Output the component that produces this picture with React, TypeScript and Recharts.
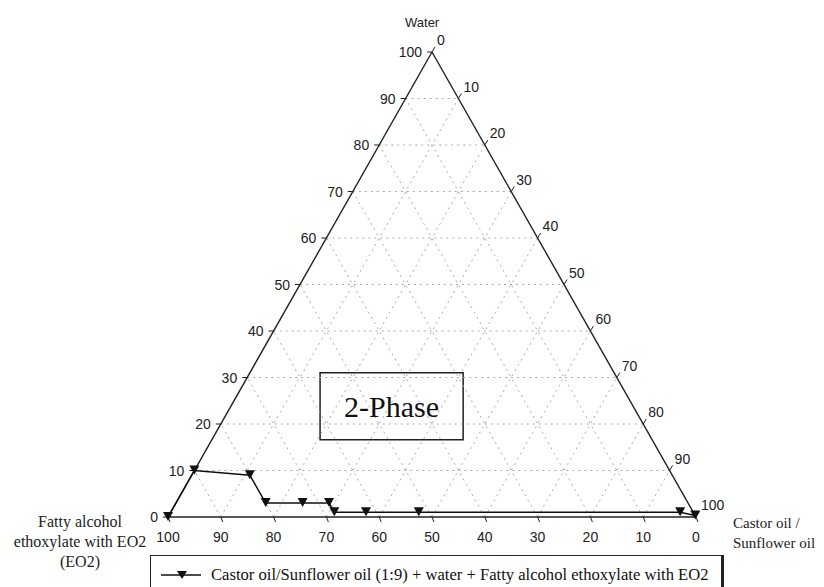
import React from 'react';
import {
  ComposedChart,
  Line,
  Scatter,
  XAxis,
  YAxis,
  ReferenceLine,
  ReferenceArea,
} from 'recharts';

const waterPct = [0, 10, 9, 3, 3, 3, 1, 1, 1, 1, 0.3];
const eo2Pct = [100, 90, 80, 80, 73, 68, 68, 62, 52, 2.5, 0];
const oilPct = [0, 0, 11, 17, 24, 29, 31, 37, 47, 96.5, 99.7];

const tickValues = [0, 10, 20, 30, 40, 50, 60, 70, 80, 90, 100];
const gridValues = [10, 20, 30, 40, 50, 60, 70, 80, 90];

const seriesName = 'Castor oil/Sunflower oil (1:9) + water + Fatty alcohol ethoxylate with EO2';
const phaseLabel = '2-Phase';

// ternary (water on top, oil bottom right, EO2 bottom left) -> plot coords
const toXY = (water: number, oil: number) => ({ x: oil + water / 2, y: water });

const curveData = waterPct.map((w, i) => ({ ...toXY(w, oilPct[i]), eo2: eo2Pct[i] }));
const leftTicks = tickValues.map((v) => ({ ...toXY(v, 0), label: v }));
const rightTicks = tickValues.map((v) => ({ ...toXY(100 - v, v), label: v }));
const bottomTicks = tickValues.map((v) => ({ ...toXY(0, 100 - v), label: v }));

const edges = [
  [toXY(0, 0), toXY(100, 0)],
  [toXY(100, 0), toXY(0, 100)],
  [toXY(0, 0), toXY(0, 100)],
];

const gridLines = gridValues.flatMap((k) => [
  [toXY(k, 0), toXY(k, 100 - k)], // constant water
  [toXY(0, 100 - k), toXY(100 - k, 0)], // constant EO2
  [toXY(0, k), toXY(100 - k, k)], // constant oil
]);

const tickFont = { fontFamily: 'Liberation Sans, Arial, sans-serif', fontSize: 14, fill: '#222' };
const serif = 'Liberation Serif, Times New Roman, serif';

const LeftTick = (p: any) => (
  <g>
    <line x1={p.cx} y1={p.cy} x2={p.cx - 5} y2={p.cy} stroke="#222" />
    <text x={p.cx - 10} y={p.cy + 5} textAnchor="end" {...tickFont}>
      {p.payload.label}
    </text>
  </g>
);

const RightTick = (p: any) => (
  <g>
    <line x1={p.cx} y1={p.cy} x2={p.cx + 3} y2={p.cy - 5} stroke="#222" />
    <text x={p.cx + 5} y={p.cy - 7} textAnchor="start" {...tickFont}>
      {p.payload.label}
    </text>
  </g>
);

const BottomTick = (p: any) => (
  <g>
    <line x1={p.cx} y1={p.cy} x2={p.cx + 2} y2={p.cy + 5} stroke="#222" />
    <text x={p.cx} y={p.cy + 25} textAnchor="middle" {...tickFont}>
      {p.payload.label}
    </text>
  </g>
);

const DownTriangle = (p: any) => (
  <polygon
    key={`m-${p.index}`}
    points={`${p.cx - 5},${p.cy - 5} ${p.cx + 5},${p.cy - 5} ${p.cx},${p.cy + 4}`}
    fill="#111"
  />
);

export default function App() {
  return (
    <div style={{ position: 'relative', width: 824, height: 587, background: '#fff' }}>
      <style>{'body{margin:0;overflow:hidden}'}</style>
      <ComposedChart
        width={824}
        height={587}
        margin={{ top: 52, right: 128, bottom: 70, left: 168 }}
      >
        <XAxis type="number" dataKey="x" domain={[0, 100]} hide />
        <YAxis type="number" dataKey="y" domain={[0, 100]} hide />
        {gridLines.map((seg, i) => (
          <ReferenceLine
            key={`g-${i}`}
            segment={seg}
            stroke="#aaa"
            strokeDasharray="2 4"
            ifOverflow="visible"
          />
        ))}
        <ReferenceArea
          x1={28.8}
          x2={55.9}
          y1={16.6}
          y2={31}
          fill="#fff"
          fillOpacity={1}
          stroke="#222"
          strokeWidth={1.5}
          ifOverflow="visible"
          label={{ value: phaseLabel, position: 'center', fontSize: 30, fontFamily: serif, fill: '#111' }}
        />
        {edges.map((seg, i) => (
          <ReferenceLine key={`e-${i}`} segment={seg} stroke="#222" strokeWidth={1.4} ifOverflow="visible" />
        ))}
        <Scatter data={leftTicks} shape={LeftTick} isAnimationActive={false} />
        <Scatter data={rightTicks} shape={RightTick} isAnimationActive={false} />
        <Scatter data={bottomTicks} shape={BottomTick} isAnimationActive={false} />
        <Line
          data={curveData}
          dataKey="y"
          type="linear"
          stroke="#111"
          strokeWidth={1.5}
          dot={DownTriangle}
          activeDot={false}
          isAnimationActive={false}
          name={seriesName}
        />
      </ComposedChart>

      <div
        style={{
          position: 'absolute',
          left: 405,
          top: 15,
          fontFamily: 'Liberation Sans, Arial, sans-serif',
          fontSize: 13,
          color: '#222',
        }}
      >
        Water
      </div>
      <div
        style={{
          position: 'absolute',
          left: 0,
          top: 512,
          width: 160,
          textAlign: 'center',
          fontFamily: serif,
          fontSize: 16,
          lineHeight: '20px',
          color: '#222',
        }}
      >
        Fatty alcohol
        <br />
        ethoxylate with EO2
        <br />
        (EO2)
      </div>
      <div
        style={{
          position: 'absolute',
          left: 733,
          top: 513,
          fontFamily: serif,
          fontSize: 15,
          lineHeight: '20px',
          color: '#222',
        }}
      >
        Castor oil /
        <br />
        Sunflower oil
      </div>
      <div
        style={{
          position: 'absolute',
          left: 150,
          top: 555,
          width: 574,
          height: 40,
          border: '1px solid #222',
          borderRightWidth: 3,
          boxSizing: 'border-box',
          display: 'flex',
          alignItems: 'flex-start',
          paddingTop: 9,
          background: '#fff',
        }}
      >
        <svg width={60} height={20} style={{ flex: 'none' }}>
          <line x1={10} y1={10} x2={50} y2={10} stroke="#111" strokeWidth={1.5} />
          <polygon points="26,6 36,6 31,14" fill="#111" />
        </svg>
        <span style={{ fontFamily: serif, fontSize: 16.6, color: '#111', lineHeight: '20px', whiteSpace: 'nowrap' }}>
          {seriesName}
        </span>
      </div>
    </div>
  );
}
